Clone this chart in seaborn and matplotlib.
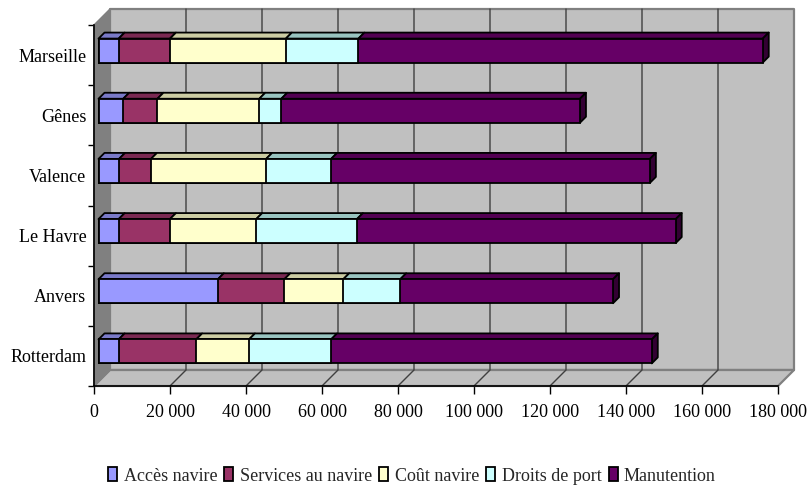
import numpy as np
import pandas as pd
import matplotlib
matplotlib.use("Agg")
import matplotlib.pyplot as plt
import matplotlib.transforms as mtrans
from matplotlib.patches import Polygon, Patch
import seaborn as sns

ports = ["Marseille", "Gênes", "Valence", "Le Havre", "Anvers", "Rotterdam"]
series = ["Accès navire", "Services au navire", "Coût navire", "Droits de port", "Manutention"]
acces = [5300, 6500, 5400, 5300, 31400, 5300]
services = [13500, 9000, 8400, 13500, 17500, 20400]
cout = [30500, 26800, 30300, 22700, 15500, 13900]
droits = [19100, 5800, 17100, 26500, 15000, 21600]
manut = [106400, 78600, 83900, 83900, 56000, 84400]
colors = ["#9999FF", "#993366", "#FFFFCC", "#CCFFFF", "#660066"]
top_colors = ["#7A7AC8", "#7A2952", "#CCCCA3", "#99C4C0", "#520052"]
xticks = list(range(0, 180001, 20000))
xlabels = ["0"] + [f"{v // 1000} 000" for v in xticks[1:]]

sns.set_theme(style="white")
plt.rcParams["font.family"] = ["Liberation Serif", "DejaVu Sans"]

W, H = 811, 488
fig = plt.figure(figsize=(W / 100, H / 100), dpi=100)
L, R, T, B = 94, 778, 25, 386
ax = fig.add_axes([L / W, (H - B) / H, (R - L) / W, (B - T) / H])
ax.patch.set_alpha(0)

px_x = 180000 / (R - L)
px_y = 6 / (B - T)
wall_dx, wall_dy = 16 * px_x, 16 * px_y
bar_dx, bar_dy = 6 * px_x, 6 * px_y
y0, y1 = 5.5, -0.5

stack = np.array([acces, services, cout, droits, manut], dtype=float)
cum = stack.cumsum(axis=0)

# stacked bars: cumulative lengths drawn longest first
for i in range(4, -1, -1):
    df = pd.DataFrame({"port": ports, "v": cum[i]})
    sns.barplot(data=df, y="port", x="v", order=ports, orient="h", color=colors[i],
                saturation=1, width=24 * px_y, edgecolor="black", linewidth=1.3,
                ax=ax, zorder=5)
ax.set_xlim(0, 180000)
ax.set_ylim(y0, y1)

off = mtrans.offset_copy(ax.transData, fig=fig, x=4.5, y=4.5, units="dots")
for p in ax.patches:
    p.set_transform(off)
    p.set_clip_on(False)


def poly(pts, fc, ec="none", lw=0, z=1, tr=None):
    ax.add_patch(Polygon(pts, closed=True, facecolor=fc, edgecolor=ec, linewidth=lw,
                         zorder=z, clip_on=False, transform=tr or ax.transData,
                         joinstyle="round"))


xmax = 180000
wall = "#C0C0C0"
border = "#808080"
# back wall, floor, side wall
poly([(wall_dx, y0 - wall_dy), (xmax + wall_dx, y0 - wall_dy),
      (xmax + wall_dx, y1 - wall_dy), (wall_dx, y1 - wall_dy)], wall, border, 1.6, 1)
poly([(0, y0), (xmax, y0), (xmax + wall_dx, y0 - wall_dy), (wall_dx, y0 - wall_dy)],
     wall, border, 1.6, 1)
poly([(0, y0), (wall_dx, y0 - wall_dy), (wall_dx, y1 - wall_dy), (0, y1)],
     border, border, 1.0, 1.5)

# gridlines on the floor and the back wall
for v in xticks[1:-1]:
    ax.plot([v, v + wall_dx, v + wall_dx], [y0, y0 - wall_dy, y1 - wall_dy],
            color="#404040", lw=1.0, zorder=2, clip_on=False)

# bar depth faces
half = 12 * px_y
for r in range(len(ports)):
    for i in range(5):
        a = 0 if i == 0 else cum[i - 1, r]
        b = cum[i, r]
        poly([(a, r - half), (b, r - half), (b + bar_dx, r - half - bar_dy),
              (a + bar_dx, r - half - bar_dy)], top_colors[i], "black", 1.3, 4, off)
    b = cum[4, r]
    poly([(b, r - half), (b + bar_dx, r - half - bar_dy),
          (b + bar_dx, r + half - bar_dy), (b, r + half)], "#330033", "black", 1.3, 4, off)

ax.set_xticks(xticks)
ax.set_xticklabels(xlabels)
ax.set_yticks(range(len(ports)))
ax.set_yticklabels(ports)
ax.set_yticks(np.arange(-0.5, 6, 1), minor=True)
ax.set_xlabel("")
ax.set_ylabel("")
ax.tick_params(axis="x", which="major", length=6, width=1, color="black", pad=7,
               labelsize=13, labelcolor="black", bottom=True)
ax.tick_params(axis="y", which="major", length=0, pad=5.5, labelsize=13, labelcolor="black")
ax.tick_params(axis="y", which="minor", length=4, width=1, color="black", left=True)
for s in ("top", "right"):
    ax.spines[s].set_visible(False)
for s in ("left", "bottom"):
    ax.spines[s].set_color("black")
    ax.spines[s].set_linewidth(1.2)
    ax.spines[s].set_zorder(3)

handles = [Patch(facecolor=c, edgecolor="black", linewidth=1.3) for c in colors]
fig.legend(handles, series, loc="center", bbox_to_anchor=(412 / W, 1 - 476 / H), ncol=5,
           frameon=False, fontsize=13, handlelength=0.5, handleheight=0.8,
           handletextpad=0.35, columnspacing=0.4, borderpad=0)

fig.savefig("out.png", dpi=100, facecolor="white")
